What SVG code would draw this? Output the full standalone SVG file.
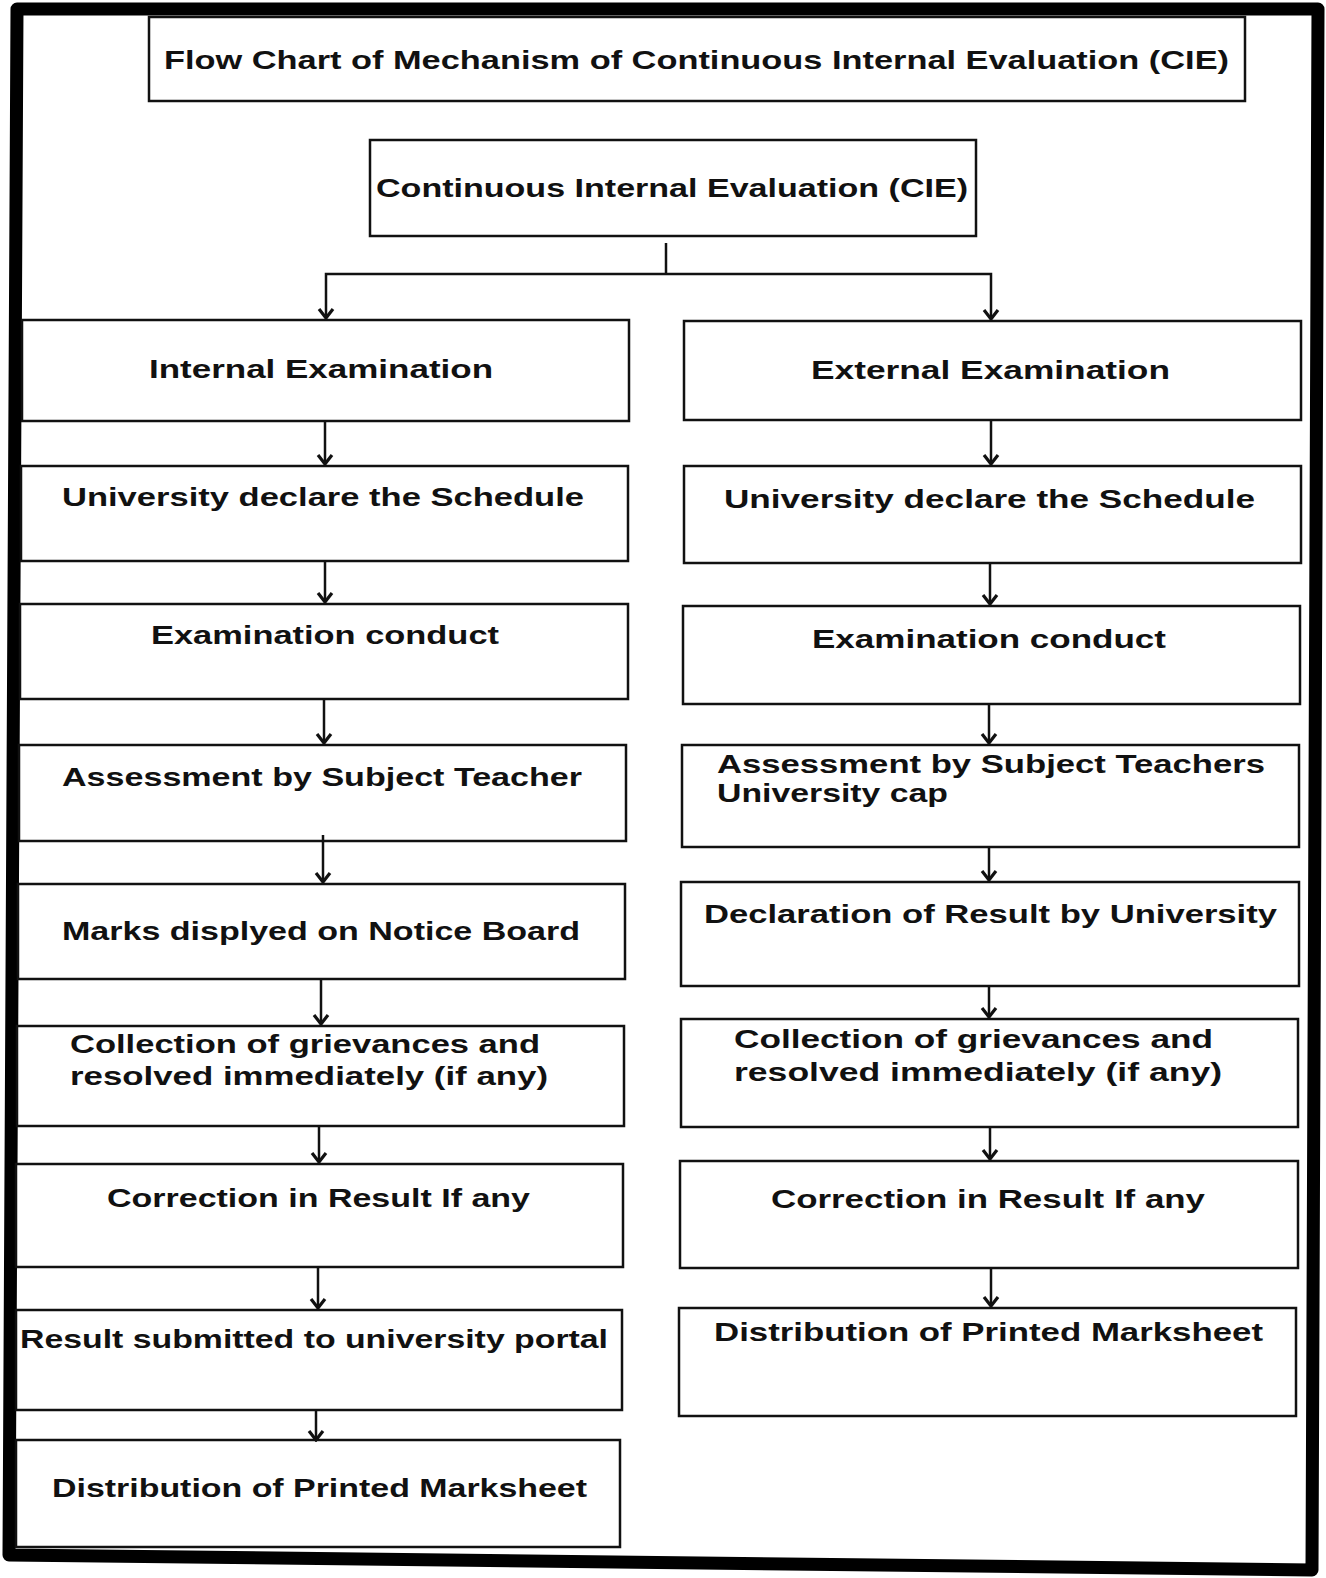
<svg xmlns="http://www.w3.org/2000/svg" width="1326" height="1578" viewBox="0 0 1326 1578">
<defs>
<style>
.box{fill:#fff;stroke:#111;stroke-width:2.5}
.t{font-family:"Liberation Sans",Arial,sans-serif;font-weight:bold;font-size:25px;fill:#111}
.c{fill:none;stroke:#111;stroke-width:2.5}
</style>
<marker id="ah" markerUnits="userSpaceOnUse" markerWidth="14" markerHeight="18" refX="12" refY="9" orient="auto" viewBox="0 0 14 18">
<path d="M3,2 L12,9 L3,16" fill="none" stroke="#111" stroke-width="3.2" stroke-linejoin="miter"/>
</marker>
</defs>
<rect x="0" y="0" width="1326" height="1578" fill="#fff"/>
<polygon points="17,9 1318,9 1312,1570 9,1555" fill="#fff" stroke="#000" stroke-width="13" stroke-linejoin="round"/>

<g id="title"><rect class="box" x="149" y="17" width="1096" height="84"/><text class="t" x="164" y="69" textLength="1065" lengthAdjust="spacingAndGlyphs">Flow Chart of Mechanism of Continuous Internal Evaluation (CIE)</text></g>
<g id="cie"><rect class="box" x="370" y="140" width="606" height="96"/><text class="t" x="376" y="197" textLength="592" lengthAdjust="spacingAndGlyphs">Continuous Internal Evaluation (CIE)</text></g>

<g id="L1"><rect class="box" x="22" y="320" width="607" height="101"/><text class="t" x="149" y="378" textLength="344" lengthAdjust="spacingAndGlyphs">Internal Examination</text></g>
<g id="L2"><rect class="box" x="21" y="466" width="607" height="95"/><text class="t" x="62" y="506" textLength="522" lengthAdjust="spacingAndGlyphs">University declare the Schedule</text></g>
<g id="L3"><rect class="box" x="20" y="604" width="608" height="95"/><text class="t" x="151" y="644" textLength="348" lengthAdjust="spacingAndGlyphs">Examination conduct</text></g>
<g id="L4"><rect class="box" x="19" y="745" width="607" height="96"/><text class="t" x="62" y="786" textLength="520" lengthAdjust="spacingAndGlyphs">Assessment by Subject Teacher</text></g>
<g id="L5"><rect class="box" x="18" y="884" width="607" height="95"/><text class="t" x="62" y="940" textLength="518" lengthAdjust="spacingAndGlyphs">Marks displyed on Notice Board</text></g>
<g id="L6"><rect class="box" x="17" y="1026" width="607" height="100"/><text class="t" x="70" y="1053" textLength="470" lengthAdjust="spacingAndGlyphs">Collection of grievances and</text><text class="t" x="70" y="1085" textLength="478" lengthAdjust="spacingAndGlyphs">resolved immediately (if any)</text></g>
<g id="L7"><rect class="box" x="16" y="1164" width="607" height="103"/><text class="t" x="107" y="1207" textLength="423" lengthAdjust="spacingAndGlyphs">Correction in Result If any</text></g>
<g id="L8"><rect class="box" x="16" y="1310" width="606" height="100"/><text class="t" x="20" y="1348" textLength="588" lengthAdjust="spacingAndGlyphs">Result submitted to university portal</text></g>
<g id="L9"><rect class="box" x="16" y="1440" width="604" height="107"/><text class="t" x="52" y="1497" textLength="535" lengthAdjust="spacingAndGlyphs">Distribution of Printed Marksheet</text></g>

<g id="R1"><rect class="box" x="684" y="321" width="617" height="99"/><text class="t" x="811" y="379" textLength="359" lengthAdjust="spacingAndGlyphs">External Examination</text></g>
<g id="R2"><rect class="box" x="684" y="466" width="617" height="97"/><text class="t" x="724" y="508" textLength="531" lengthAdjust="spacingAndGlyphs">University declare the Schedule</text></g>
<g id="R3"><rect class="box" x="683" y="606" width="617" height="98"/><text class="t" x="812" y="648" textLength="354" lengthAdjust="spacingAndGlyphs">Examination conduct</text></g>
<g id="R4"><rect class="box" x="682" y="745" width="617" height="102"/><text class="t" x="717" y="773" textLength="548" lengthAdjust="spacingAndGlyphs">Assessment by Subject Teachers</text><text class="t" x="717" y="802" textLength="231" lengthAdjust="spacingAndGlyphs">University cap</text></g>
<g id="R5"><rect class="box" x="681" y="882" width="618" height="104"/><text class="t" x="704" y="923" textLength="573" lengthAdjust="spacingAndGlyphs">Declaration of Result by University</text></g>
<g id="R6"><rect class="box" x="681" y="1019" width="617" height="108"/><text class="t" x="734" y="1048" textLength="479" lengthAdjust="spacingAndGlyphs">Collection of grievances and</text><text class="t" x="734" y="1081" textLength="488" lengthAdjust="spacingAndGlyphs">resolved immediately (if any)</text></g>
<g id="R7"><rect class="box" x="680" y="1161" width="618" height="107"/><text class="t" x="771" y="1208" textLength="434" lengthAdjust="spacingAndGlyphs">Correction in Result If any</text></g>
<g id="R8"><rect class="box" x="679" y="1308" width="617" height="108"/><text class="t" x="714" y="1341" textLength="549" lengthAdjust="spacingAndGlyphs">Distribution of Printed Marksheet</text></g>

<g id="connectors">
<path class="c" d="M666,243 V274"/>
<path class="c" d="M666,274 H326 V318" marker-end="url(#ah)"/>
<path class="c" d="M666,274 H991 V319" marker-end="url(#ah)"/>
<path class="c" d="M325,421 V464" marker-end="url(#ah)"/>
<path class="c" d="M325,561 V602" marker-end="url(#ah)"/>
<path class="c" d="M324,699 V743" marker-end="url(#ah)"/>
<path class="c" d="M323,835 V882" marker-end="url(#ah)"/>
<path class="c" d="M321,979 V1024" marker-end="url(#ah)"/>
<path class="c" d="M319,1126 V1162" marker-end="url(#ah)"/>
<path class="c" d="M318,1267 V1308" marker-end="url(#ah)"/>
<path class="c" d="M316,1410 V1440" marker-end="url(#ah)"/>
<path class="c" d="M991,420 V464" marker-end="url(#ah)"/>
<path class="c" d="M990,563 V604" marker-end="url(#ah)"/>
<path class="c" d="M989,704 V743" marker-end="url(#ah)"/>
<path class="c" d="M989,847 V880" marker-end="url(#ah)"/>
<path class="c" d="M989,986 V1017" marker-end="url(#ah)"/>
<path class="c" d="M990,1127 V1159" marker-end="url(#ah)"/>
<path class="c" d="M991,1268 V1306" marker-end="url(#ah)"/>
</g>
</svg>
